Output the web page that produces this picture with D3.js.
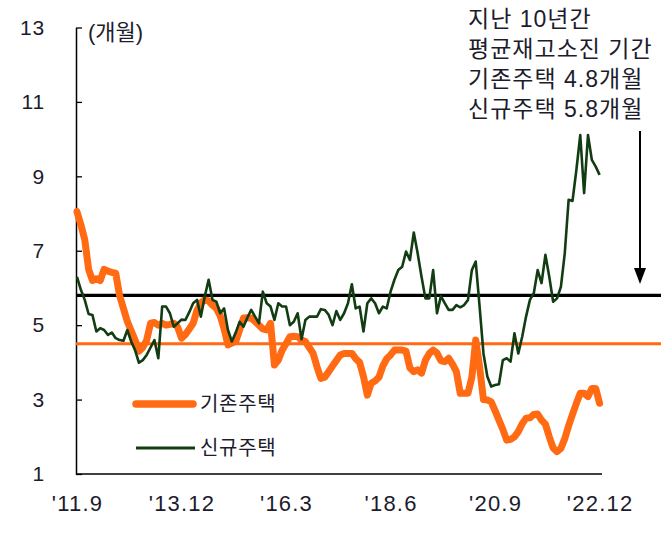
<!DOCTYPE html>
<html><head><meta charset="utf-8">
<script src="https://cdn.jsdelivr.net/npm/d3@7"></script>
<style>
html,body{margin:0;padding:0;background:#fff;}
text{font-family:"Liberation Sans","Noto Sans CJK KR",sans-serif;}
</style></head>
<body>
<svg id="chart" width="668" height="538"></svg>
<script>
// ---- data ----
const xTickIndex = [0, 27, 54, 81, 108, 135];
const xTickLabels = ["'11.9", "'13.12", "'16.3", "'18.6", "'20.9", "'22.12"];
const yTicks = [1, 3, 5, 7, 9, 11, 13];
const seriesNames = ["기존주택", "신규주택"];
const existing = [
 8.05,7.7,7.3,6.5,6.2,6.25,6.2,6.5,6.45,6.42,
 6.4,5.8,5.45,5.1,4.85,4.6,4.3,4.4,4.6,5.05,
 5.07,5.0,5.05,5.0,5.02,5.05,4.95,4.65,4.75,4.9,
 5.05,5.4,5.6,5.68,5.65,5.54,5.45,5.25,4.9,4.47,
 4.52,4.56,4.87,5.19,5.2,5.19,5.1,5.0,4.9,4.87,
 5.05,3.93,4.06,4.33,4.5,4.69,4.7,4.69,4.6,4.56,
 4.4,4.24,3.88,3.57,3.6,3.75,3.9,4.05,4.2,4.24,
 4.24,4.24,4.1,4.0,3.62,3.12,3.44,3.5,3.6,3.9,
 4.1,4.2,4.33,4.33,4.33,4.3,3.85,3.75,3.8,3.71,
 4.06,4.24,4.33,4.25,4.05,4.02,4.11,3.95,3.75,3.17,
 3.17,3.17,3.6,4.6,3.88,3.0,2.99,2.94,2.7,2.45,
 2.2,1.91,1.93,2.0,2.14,2.35,2.5,2.51,2.6,2.61,
 2.45,2.34,2.0,1.7,1.6,1.69,1.95,2.3,2.6,2.9,
 3.17,3.17,3.08,3.3,3.3,2.9
];
const newHomes = [
 6.3,5.95,5.68,5.3,5.27,4.83,4.92,4.87,4.74,4.8,
 4.65,4.6,4.58,4.87,4.56,4.33,3.99,4.06,4.2,4.4,
 4.6,4.11,5.5,5.5,5.32,4.96,5.05,5.15,5.14,5.35,
 5.59,5.68,5.23,5.77,6.22,5.68,5.63,5.32,5.45,4.87,
 4.56,4.8,5.09,4.96,5.2,5.41,5.23,5.05,5.9,5.59,
 5.5,5.14,5.59,5.5,5.5,5.0,5.09,5.32,4.62,5.14,
 5.23,5.23,5.23,5.43,5.41,5.28,5.0,5.38,5.14,5.32,
 5.59,6.1,5.45,5.5,4.83,5.59,5.72,5.59,5.32,5.5,
 5.45,5.9,6.22,6.48,6.57,6.98,6.75,7.49,6.93,6.3,
 5.72,5.72,6.48,5.32,5.78,5.59,5.41,5.41,5.54,5.48,
 5.54,5.68,6.48,6.71,5.5,4.24,3.62,3.35,3.39,3.41,
 4.06,4.11,4.02,4.78,4.24,4.69,5.23,5.68,5.86,6.48,
 6.13,6.89,6.3,5.63,5.72,6.03,6.93,8.37,8.34,9.17,
 10.11,8.55,10.11,9.44,9.26,9.04
];
const avgValues = [4.5, 5.8]; // 기존, 신규 평균선
const unitLabel = "(개월)";
const noteLines = ["지난 10년간", "평균재고소진 기간", "기존주택 4.8개월", "신규주택 5.8개월"];

// ---- drawing ----
const ORANGE = "#ff6a12", GREEN = "#123c12", TXT = "#1c1c2c";
const svg = d3.select("#chart");
const x = d3.scaleLinear().domain([0, existing.length - 1]).range([77, 599.6]);
const y = d3.scaleLinear().domain([1, 13]).range([474, 27.5]);
const axisX0 = 76, plotRight = 602, refRight = 661;

// y axis
const gy = svg.append("g").attr("transform", `translate(${axisX0},0)`)
  .call(d3.axisLeft(y).tickValues(yTicks).tickSizeInner(-6).tickSizeOuter(0).tickPadding(31));
gy.select(".domain").attr("stroke", "#000").attr("stroke-width", 1.5);
gy.selectAll(".tick line").attr("stroke", "#000").attr("stroke-width", 1.3);
gy.selectAll("text").attr("font-size", 21).attr("letter-spacing", 0.8).attr("fill", TXT);

// x axis
const gx = svg.append("g").attr("transform", `translate(0,${y(1)})`)
  .call(d3.axisBottom(x).tickValues(xTickIndex).tickFormat((d, i) => xTickLabels[i]).tickSize(0).tickPadding(21));
gx.select(".domain").remove();
gx.selectAll("text").attr("font-size", 22).attr("letter-spacing", 1.2).attr("fill", TXT);
svg.append("line").attr("x1", axisX0).attr("x2", plotRight).attr("y1", y(1)).attr("y2", y(1))
  .attr("stroke", "#000").attr("stroke-width", 1.5);

// unit label
svg.append("text").attr("x", 88).attr("y", 40).attr("font-size", 22).attr("fill", TXT).text(unitLabel);

// reference lines
svg.append("line").attr("x1", axisX0).attr("x2", refRight).attr("y1", y(avgValues[0])).attr("y2", y(avgValues[0]))
  .attr("stroke", ORANGE).attr("stroke-width", 3);
svg.append("line").attr("x1", axisX0).attr("x2", refRight).attr("y1", y(avgValues[1])).attr("y2", y(avgValues[1]))
  .attr("stroke", "#000").attr("stroke-width", 3.2);

// series lines
const line = d3.line().x((d, i) => x(i)).y(d => y(d));
svg.append("path").datum(existing).attr("d", line).attr("fill", "none")
  .attr("stroke", ORANGE).attr("stroke-width", 7).attr("stroke-linejoin", "round").attr("stroke-linecap", "round");
svg.append("path").datum(newHomes).attr("d", line).attr("fill", "none")
  .attr("stroke", GREEN).attr("stroke-width", 2.6).attr("stroke-linejoin", "round");

// legend
const lg = svg.append("g");
lg.append("line").attr("x1", 136).attr("x2", 193).attr("y1", 404).attr("y2", 404)
  .attr("stroke", ORANGE).attr("stroke-width", 7.5).attr("stroke-linecap", "round");
lg.append("text").attr("x", 200).attr("y", 411).attr("font-size", 20).attr("letter-spacing", 0.7).attr("fill", TXT).text(seriesNames[0]);
lg.append("line").attr("x1", 136).attr("x2", 195).attr("y1", 448).attr("y2", 448)
  .attr("stroke", GREEN).attr("stroke-width", 3);
lg.append("text").attr("x", 200).attr("y", 455).attr("font-size", 20).attr("letter-spacing", 0.7).attr("fill", TXT).text(seriesNames[1]);

// annotation
const nt = svg.append("text").attr("font-size", 23).attr("letter-spacing", 1).attr("fill", TXT);
noteLines.forEach((t, i) => nt.append("tspan").attr("x", 468).attr("y", 27 + i * 30).text(t));

// arrow
const ax = 640;
svg.append("line").attr("x1", ax).attr("x2", ax).attr("y1", 131).attr("y2", 270)
  .attr("stroke", "#000").attr("stroke-width", 2);
svg.append("path").attr("d", `M${ax - 6},268 L${ax + 6},268 L${ax},284 Z`).attr("fill", "#000");
</script>
</body></html>
